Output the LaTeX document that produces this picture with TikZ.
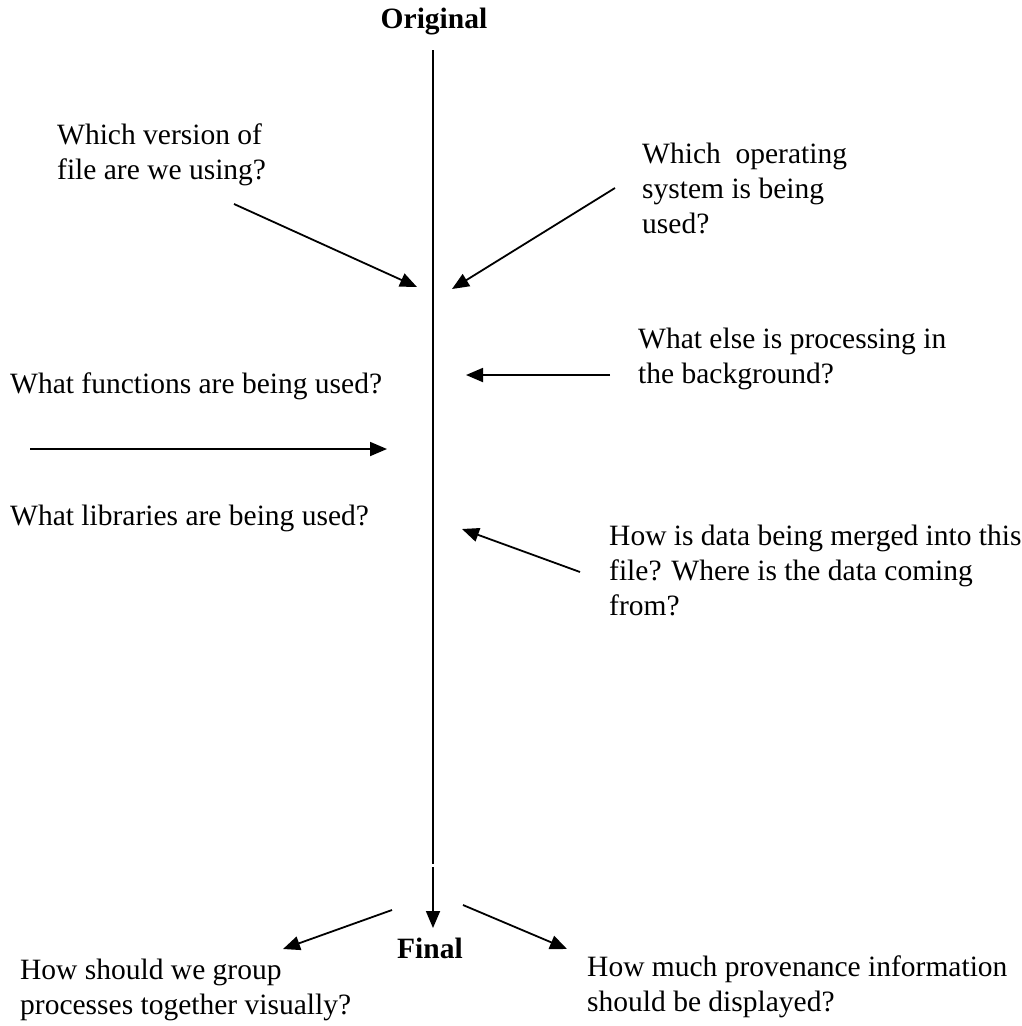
\documentclass[tikz,border=0pt]{standalone}
\usepackage{fontspec}
\setmainfont{Liberation Serif}
\usetikzlibrary{arrows.meta}

\begin{document}
\begin{tikzpicture} [x=1pt, y=-1pt,
  q/.style={anchor=base west, align=left, inner sep=0, font=\fontsize{29.5}{35}\selectfont},
  ttl/.style={anchor=base, inner sep=0, font=\fontsize{29.5}{35}\selectfont\bfseries},
  arr/.style={line width=1.8pt, -{Triangle[length=17pt,width=14pt]}}]
\useasboundingbox (0,0) rectangle (1021,1026);
\node[ttl] (orig) at (434,28) {Original};
\node[ttl] (final) at (430,958) {Final};
% the time line
\coordinate (top) at (433,50);
\coordinate (low) at (433,864);
\coordinate (s0) at (433,867);
\coordinate (t0) at (433,928);
\draw[line width=1.8pt] (top)--(low);
\draw[arr] (s0)--(t0);
% questions (placed at the baseline of their last line)
\node[q] (q1) at (57,179) {Which version of\\file are we using?};
\node[q] (q2) at (642,233) {Which \ operating\\system is being\\used?};
\node[q] (q3) at (638,383) {What else is processing in\\the background?};
\node[q] (q4) at (10,393) {What functions are being used?};
\node[q] (q5) at (10,525) {What libraries are being used?};
\node[q] (q6) at (609,615) {How is data being merged into this\\file? Where is the data coming\\from?};
\node[q] (q7) at (20,1014) {How should we group\\processes together visually?};
\node[q] (q8) at (587,1011) {How much provenance information\\should be displayed?};
% arrows
\coordinate (s1) at (234,204); \coordinate (t1) at (417,287);
\coordinate (s2) at (615,188); \coordinate (t2) at (452,289);
\coordinate (s3) at (610,375); \coordinate (t3) at (466,375);
\coordinate (s4) at (30,449);  \coordinate (t4) at (387,449);
\coordinate (s6) at (580,572); \coordinate (t6) at (462,529);
\coordinate (s7) at (392,910); \coordinate (t7) at (283,949);
\coordinate (s8) at (463,905); \coordinate (t8) at (567,949);
\foreach \i in {1,2,3,4,6,7,8} {
 \draw[arr] (s\i)--(t\i);
}
\end{tikzpicture}
\end{document}
